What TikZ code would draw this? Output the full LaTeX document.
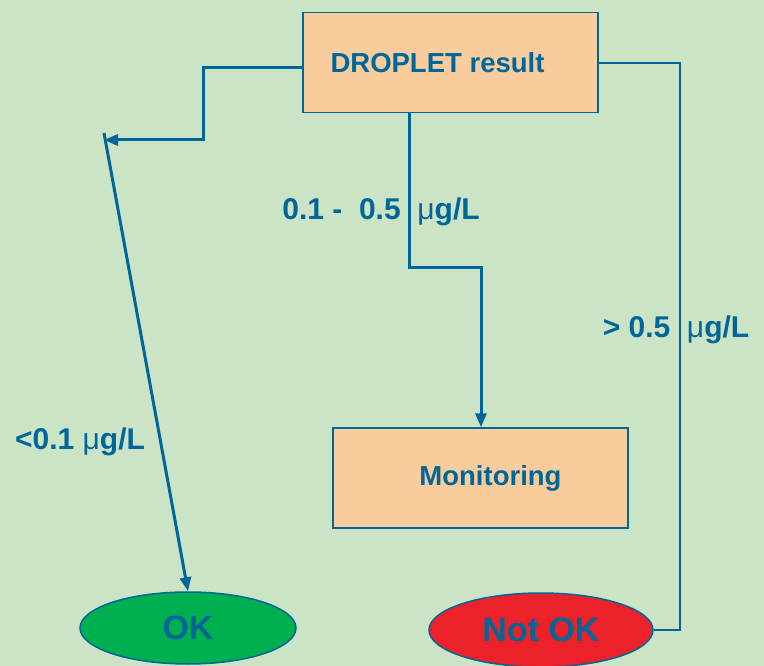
\documentclass[tikz,border=0pt]{standalone}
\usepackage{fontspec}
\setmainfont{Liberation Sans}
\usetikzlibrary{arrows.meta,shapes.geometric}
\definecolor{bgreen}{RGB}{204,228,198}
\definecolor{peach}{RGB}{248,204,156}
\definecolor{lineblue}{RGB}{0,102,153}
\definecolor{okgreen}{RGB}{0,176,80}
\definecolor{notred}{RGB}{237,33,41}
\newcommand{\mug}{{\mdseries μ}g/L}
\tikzset{
  box/.style={draw=lineblue, line width=1.5pt, fill=peach, minimum width=295pt, minimum height=100pt, inner sep=0pt},
  result/.style={ellipse, draw=lineblue, line width=1.5pt, minimum width=216pt, minimum height=72pt, inner sep=0pt, font=\fontsize{34}{40}\selectfont\bfseries, text=lineblue},
  lbl/.style={text=lineblue, font=\fontsize{30}{36}\selectfont\bfseries},
  conn/.style={draw=lineblue, line width=3pt},
  tip/.style={-{Triangle[length=14pt,width=11pt]}}
}
\begin{document}
\begin{tikzpicture}[x=1pt, y=-1pt]
  \fill [bgreen] (0, 0) rectangle (764, 666);
  \useasboundingbox (0, 0) rectangle (764, 666);

  \node [box, font=\fontsize{27.5}{32}\selectfont\bfseries, text=lineblue] (droplet) at (450.5, 62.5) {DROPLET result\hspace*{26pt}};
  \node [box, font=\fontsize{27.5}{32}\selectfont\bfseries, text=lineblue] (monitor) at (480.5, 478) {\hspace{20pt}Monitoring};
  \node [result, fill=okgreen] (ok) at (188, 628) {OK};
  \node [result, fill=notred, minimum width=224pt, minimum height=74pt] (notok) at (541, 630) {Not OK};

  \coordinate (lbend) at (203, 68);
  \coordinate (lend) at (104, 140);
  \coordinate (ltop) at (104, 133);
  \coordinate (mbend) at (409, 268);
  \coordinate (rbend) at (680, 63);

  \draw [conn, tip] (droplet.west |- lbend) -- (lbend) |- (lend);
  \draw [conn, tip] (ltop) -- (ok.north);
  \draw [conn, tip] (droplet.south -| mbend) -- (mbend) -| (monitor.north -| 481, 0);
  \draw [draw=lineblue, line width=2pt] (droplet.east |- rbend) -- (rbend) |- (notok.east);

  \node [lbl] (lmid) at (381, 212) {0.1 -\ \ 0.5\ \ \mug};
  \node [lbl] (lright) at (676, 330) {> 0.5\ \ \mug};
  \node [lbl] (lleft) at (80, 442) {<0.1 \mug};
\end{tikzpicture}
\end{document}
